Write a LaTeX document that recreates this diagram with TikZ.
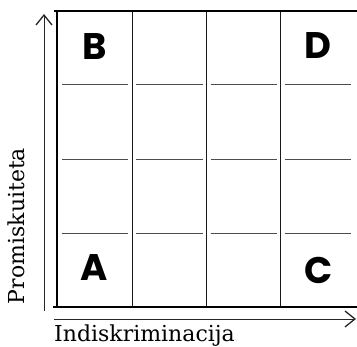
\documentclass[tikz,border=0pt]{standalone}
\usepackage{fontspec}
\setmainfont{DejaVu Serif}
\newfontfamily\quadfont{Poppins}
\usetikzlibrary{arrows.meta}
\begin{document}
\begin{tikzpicture}[x=1pt,y=-1pt,
    letter/.style={font=\quadfont\bfseries\fontsize{37}{37}\selectfont,
                   anchor=center,inner sep=0pt},
    frame/.style={line width=2.6pt,black},
    vline/.style={line width=1.1pt,black!90},
    hline/.style={line width=1.1pt,black!70},
    axis/.style={line width=0.9pt,black!85,
                 -{Straight Barb[length=10pt,width=16pt,line width=1.3pt]}},
    axislabel/.style={font=\fontsize{22}{22}\selectfont,inner sep=0pt}]
  \def\c{74.3}
  \useasboundingbox (0,0) rectangle (357,347);
  % cuadrícula de 4x4 casillas, las horizontales cortadas en cada columna
  \foreach \i in {1,2,3}{
    \draw[vline] (58+\i*\c,11) -- (58+\i*\c,307);
    \foreach \j in {0,...,3}
      \draw[hline] (58+\j*\c+4,10.5+\i*\c) -- (58+\j*\c+\c-4,10.5+\i*\c);
  }
  \draw[frame] (54,11) -- (357,11);
  \draw[frame] (57,11) -- (57,307);
  \draw[frame] (53,307) -- (357,307);
  \foreach \n/\x/\y in {B/95/47, D/318/46, A/94/268, C/319/270}
    \node[letter] (\n) at (\x,\y) {\n};
  \coordinate (ybot) at (44,311);
  \coordinate (ytop) at (44,14);
  \coordinate (xleft) at (54,319);
  \coordinate (xright) at (356,319);
  \draw[axis] (ybot) -- (ytop);
  \draw[axis] (xleft) -- (xright);
  \node[axislabel,rotate=90] (prom) at (16,226) {Promiskuiteta};
  \node[axislabel,anchor=west] (indi) at (54,336) {Indiskriminacija};
\end{tikzpicture}
\end{document}
